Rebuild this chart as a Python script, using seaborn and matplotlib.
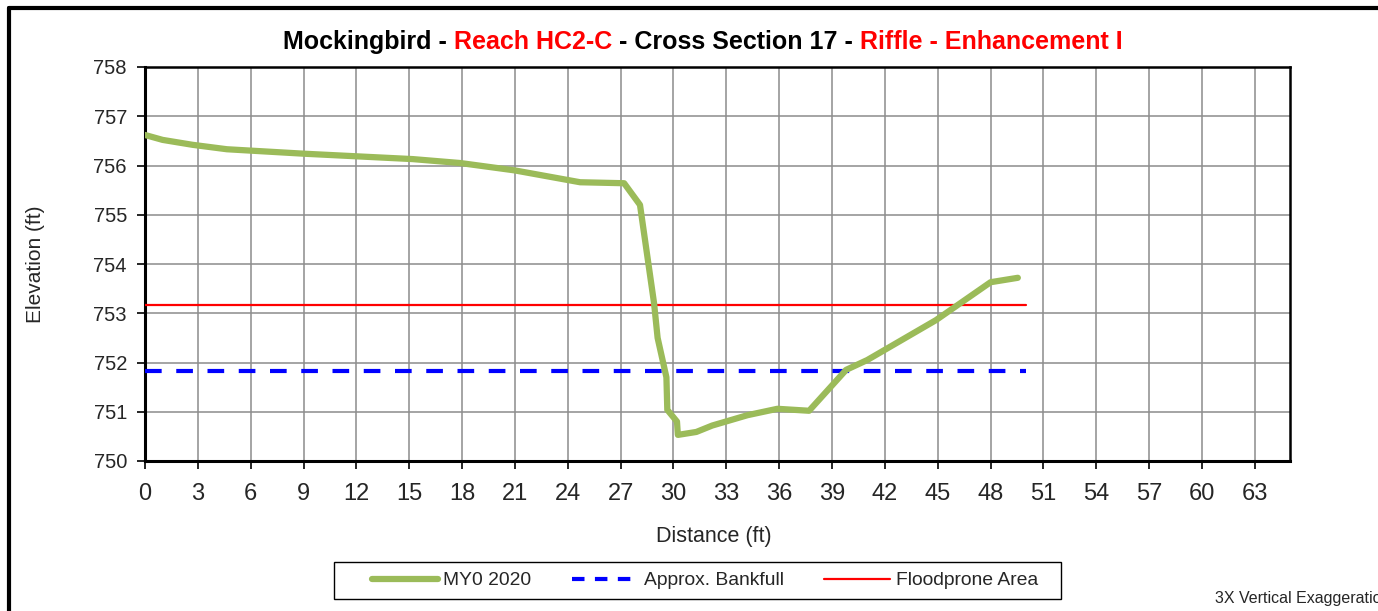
import numpy as np
import pandas as pd
import seaborn as sns
import matplotlib.pyplot as plt
from matplotlib.lines import Line2D
from matplotlib.patches import Rectangle

# Surveyed cross section (distance ft, elevation ft)
station = [0.0, 1.0, 2.7, 4.65, 9.0, 15.2, 17.9, 21.0, 24.7, 27.2, 28.1, 28.9, 29.1,
           29.6, 29.65, 30.2, 30.25, 31.3, 32.2, 34.2, 35.9, 37.7, 39.8, 41.0, 44.9,
           48.0, 49.55]
elevation = [756.62, 756.52, 756.42, 756.33, 756.24, 756.13, 756.05, 755.9, 755.66,
             755.64, 755.2, 753.2, 752.5, 751.7, 751.04, 750.8, 750.53, 750.59, 750.72,
             750.93, 751.06, 751.02, 751.85, 752.05, 752.86, 753.63, 753.72]

bankfull_x = [0, 50]
bankfull_y = [751.83, 751.83]
floodprone_x = [0, 50]
floodprone_y = [753.17, 753.17]

x_ticks = list(range(0, 64, 3))
y_ticks = list(range(750, 759))

sns.set_style("white")
plt.rcParams['font.family'] = ['Liberation Sans', 'DejaVu Sans']

fig = plt.figure(figsize=(13.78, 6.11), dpi=100)
ax = fig.add_axes([145 / 1378, 1 - 461 / 611, (1290 - 145) / 1378, (461 - 67) / 611])

df = pd.DataFrame({'Distance': station, 'Elevation': elevation})
sns.lineplot(data=df, x='Distance', y='Elevation', sort=False, ax=ax,
             color='#9BBB59', linewidth=4.5, solid_capstyle='round', zorder=4)
sns.lineplot(x=bankfull_x, y=bankfull_y, ax=ax, color='#0000FF', linewidth=3,
             dashes=False, zorder=3).lines[-1].set_dashes([4, 3.5])
sns.lineplot(x=floodprone_x, y=floodprone_y, ax=ax, color='#FF0000', linewidth=1.6, zorder=3)

ax.set_xlim(0, 65)
ax.set_ylim(750, 758)
ax.set_xticks(x_ticks)
ax.set_yticks(y_ticks)
ax.set_xticklabels([str(t) for t in x_ticks], fontsize=17)
ax.set_yticklabels([str(t) for t in y_ticks], fontsize=14.5)
ax.grid(True, color='#8C8C8C', linewidth=1.1)
ax.set_axisbelow(True)
ax.tick_params(axis='both', direction='out', length=6, width=1.2, color='black',
               left=True, bottom=True)
ax.tick_params(axis='x', pad=10)
ax.tick_params(axis='y', pad=7)
for s in ax.spines.values():
    s.set_visible(True)
    s.set_color('black')
    s.set_linewidth(1.8)
ax.spines['left'].set_linewidth(2.2)
ax.spines['bottom'].set_linewidth(2.2)
ax.set_xlabel('Distance (ft)', fontsize=15.5)
ax.set_ylabel('Elevation (ft)', fontsize=15)
ax.xaxis.set_label_coords(0.497, (461 - 526) / 394)
ax.yaxis.set_label_coords((45 - 145) / 1145, 0.5)

# Multi-colour title
parts = [("Mockingbird - ", 'black'), ("Reach HC2-C", '#FF0000'),
         (" - Cross Section 17 - ", 'black'), ("Riffle - Enhancement I", '#FF0000')]
fig.canvas.draw()
renderer = fig.canvas.get_renderer()
texts = []
x = 0.0
for s, c in parts:
    t = fig.text(x, 1 - 42 / 611, s, color=c, fontsize=18, fontweight='bold',
                 va='center', ha='left')
    texts.append(t)
    bb = t.get_window_extent(renderer)
    x += bb.width / fig.bbox.width
start = 703 / 1378 - x / 2
for t in texts:
    t.set_x(t.get_position()[0] + start)

# Legend (frame drawn separately: the original box has a wide left margin)
handles = [Line2D([], [], color='#9BBB59', linewidth=4.5),
           Line2D([], [], color='#0000FF', linewidth=3, dashes=[3, 2.5]),
           Line2D([], [], color='#FF0000', linewidth=1.6)]
labels = ['MY0 2020', 'Approx. Bankfull', 'Floodprone Area']
leg = fig.legend(handles, labels, loc='center left', bbox_to_anchor=(372 / 1378, 1 - 580.5 / 611),
                 ncol=3, fontsize=13.9, frameon=False, borderpad=0, borderaxespad=0,
                 handlelength=3.4, columnspacing=2.1, handletextpad=0.3)
fig.add_artist(Rectangle((334 / 1378, 1 - 599 / 611), (1061 - 334) / 1378, 37 / 611,
                         transform=fig.transFigure, fill=False, edgecolor='black',
                         linewidth=1.0))

fig.text(1215 / 1378, 1 - 598 / 611, '3X Vertical Exaggeration', fontsize=11.5,
         va='center', ha='left')

# Outer chart frame (top and left edges visible)
fig.add_artist(Line2D([9 / 1378, 1], [1 - 8 / 611, 1 - 8 / 611],
                      transform=fig.transFigure, color='black', linewidth=3))
fig.add_artist(Line2D([9 / 1378, 9 / 1378], [0, 1 - 8 / 611],
                      transform=fig.transFigure, color='black', linewidth=3))

fig.savefig('out.png', dpi=100)
